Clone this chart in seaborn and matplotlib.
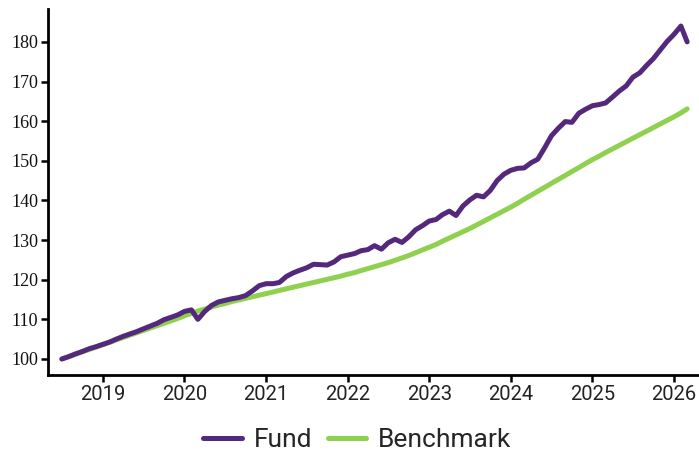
import numpy as np
import pandas as pd
import matplotlib
matplotlib.use("Agg")
import matplotlib.pyplot as plt
import matplotlib.dates as mdates
import seaborn as sns

# monthly index values, Jul 2018 .. Mar 2026
dates = pd.date_range("2018-07-01", "2026-03-01", freq="MS")

fund = [
    100.0, 100.6, 101.3, 101.9, 102.6, 103.1, 103.7, 104.3, 105.0, 105.7,
    106.3, 106.9, 107.6, 108.3, 109.0, 109.9, 110.5, 111.1, 112.0, 112.4,
    110.0, 112.0, 113.5, 114.4, 114.8, 115.2, 115.5, 116.0, 117.2, 118.5,
    119.0, 119.0, 119.3, 120.8, 121.7, 122.4, 123.0, 123.9, 123.8, 123.7,
    124.5, 125.8, 126.2, 126.6, 127.3, 127.6, 128.6, 127.7, 129.3, 130.2,
    129.4, 130.8, 132.6, 133.6, 134.8, 135.2, 136.4, 137.3, 136.2, 138.6,
    140.1, 141.3, 140.9, 142.5, 145.0, 146.6, 147.6, 148.1, 148.2, 149.5,
    150.4, 153.3, 156.3, 158.2, 159.9, 159.7, 162.0, 163.0, 163.9, 164.2,
    164.6, 166.1, 167.6, 168.9, 171.1, 172.2, 174.1, 175.8, 178.0, 180.1,
    181.9, 184.0, 180.0,
]

benchmark = [
    100.0, 100.6, 101.2, 101.8, 102.4, 103.0, 103.6, 104.2, 104.8, 105.4,
    106.0, 106.6, 107.2, 107.8, 108.4, 109.0, 109.6, 110.2, 110.9, 111.5,
    112.1, 112.6, 113.1, 113.6, 114.0, 114.5, 114.9, 115.3, 115.7, 116.1,
    116.5, 116.9, 117.3, 117.7, 118.1, 118.5, 118.9, 119.3, 119.7, 120.1,
    120.5, 120.9, 121.4, 121.8, 122.3, 122.8, 123.3, 123.8, 124.3, 124.9,
    125.5, 126.1, 126.8, 127.5, 128.2, 128.9, 129.7, 130.5, 131.3, 132.1,
    132.9, 133.8, 134.7, 135.6, 136.5, 137.4, 138.3, 139.3, 140.3, 141.3,
    142.3, 143.3, 144.3, 145.3, 146.3, 147.3, 148.3, 149.3, 150.3, 151.2,
    152.1, 153.0, 153.9, 154.8, 155.7, 156.6, 157.5, 158.4, 159.3, 160.2,
    161.1, 162.1, 163.1,
]

series_names = ["Fund", "Benchmark"]
colors = ["#54287c", "#8fd14f"]

frame = pd.concat([
    pd.DataFrame({"date": dates, "value": fund, "series": "Fund"}),
    pd.DataFrame({"date": dates, "value": benchmark, "series": "Benchmark"}),
])

sns.set_style("white")

fig = plt.figure(figsize=(6.99, 4.55), dpi=100)
ax = fig.add_axes([48/699, 1 - 375/455, 1 - 48/699, (375 - 9)/455])

sns.lineplot(data=frame, x="date", y="value", hue="series", hue_order=series_names,
             palette=colors, linewidth=3.6, ax=ax, legend=True)
# fund drawn over benchmark
ax.lines[0].set_zorder(3)

ax.set_ylim(95.96, 188.3)
ax.set_xlim(pd.Timestamp("2018-04-30"), pd.Timestamp("2026-04-23"))
ax.set_yticks(range(100, 190, 10))
ax.xaxis.set_major_locator(mdates.YearLocator())
ax.xaxis.set_major_formatter(mdates.DateFormatter("%Y"))
ax.set_xlabel(None)
ax.set_ylabel(None)

sns.despine(ax=ax)
for side in ["left", "bottom"]:
    ax.spines[side].set_color("black")
    ax.spines[side].set_linewidth(2.0)
ax.tick_params(axis="both", which="major", direction="out", length=5, width=1.8,
               color="black", left=True, bottom=True, pad=2)
for lab in ax.get_yticklabels():
    lab.set_fontfamily("Liberation Serif")
    lab.set_fontsize(13)
    lab.set_color("#111111")
for lab in ax.get_xticklabels():
    lab.set_fontfamily("Roboto")
    lab.set_fontsize(14.5)
    lab.set_color("#222222")

handles, labels = ax.get_legend_handles_labels()
leg = fig.legend(handles, labels, loc="center", bbox_to_anchor=(0.511, 1 - 440/455),
                 ncol=2, frameon=False, prop={"family": "Roboto", "size": 19},
                 handlelength=1.45, handletextpad=0.45, columnspacing=0.6)
ax.get_legend().remove()

fig.savefig("out.png", dpi=100)
